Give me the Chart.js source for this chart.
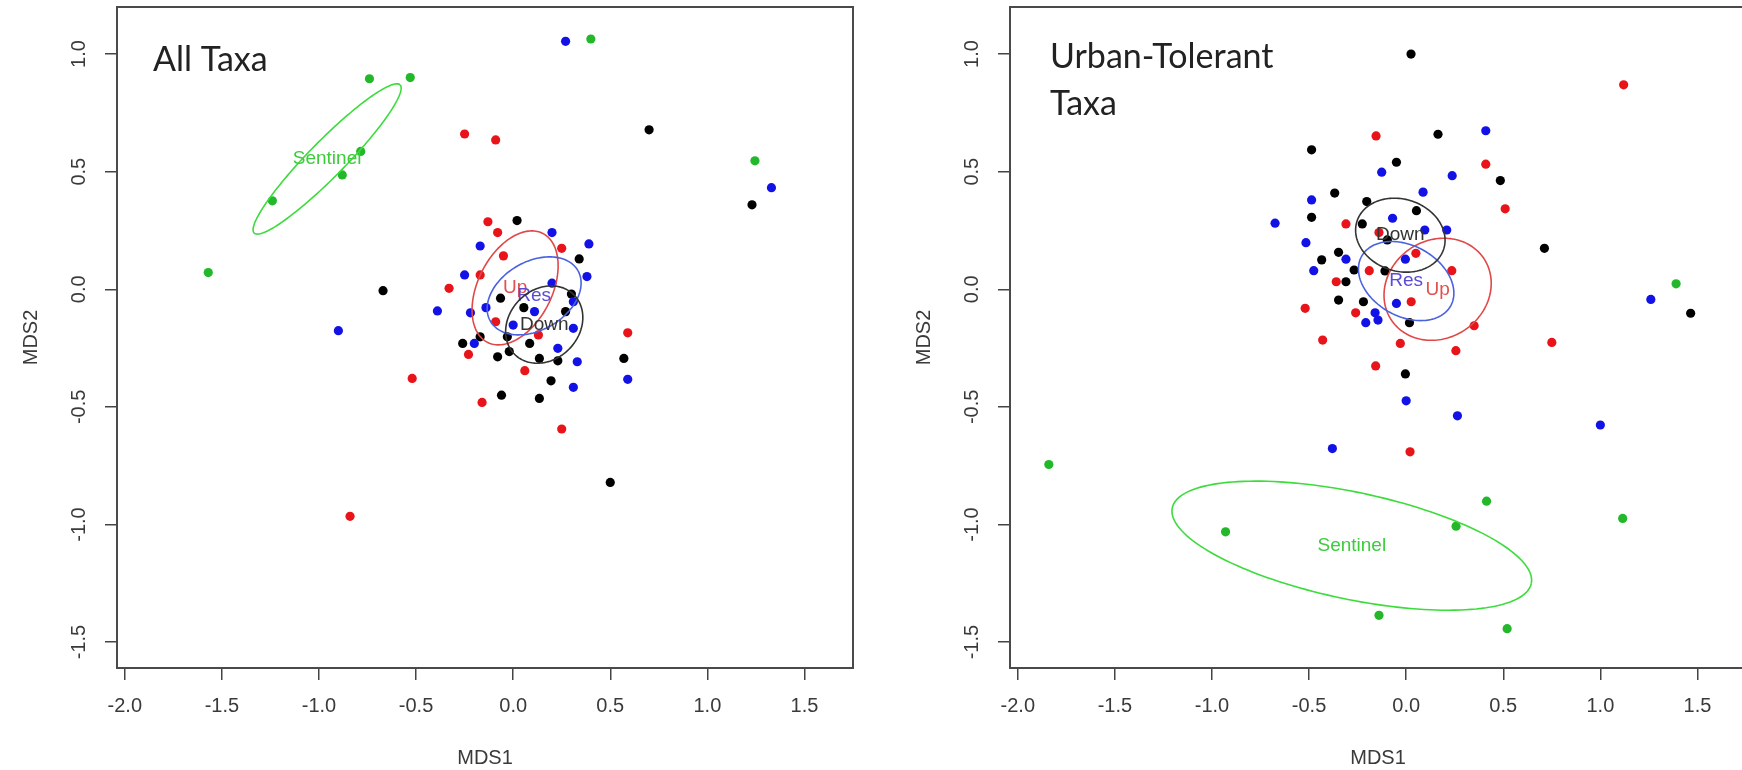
<!DOCTYPE html>
<html>
<head>
<meta charset="utf-8">
<title>NMDS - All Taxa / Urban-Tolerant Taxa</title>
<script src="https://cdn.jsdelivr.net/npm/chart.js@4.4.1/dist/chart.umd.min.js"></script>
<style>
  html, body { margin: 0; padding: 0; background: #fff; overflow: hidden; }
  #wrap { position: relative; width: 1742px; height: 770px; overflow: hidden; }
  canvas { position: absolute; top: 0; }
  #allTaxa { left: 0; }
  #urbanTaxa { left: 893px; }
</style>
</head>
<body>
<div id="wrap">
  <canvas id="allTaxa" width="893" height="770"></canvas>
  <canvas id="urbanTaxa" width="893" height="770"></canvas>
</div>
<script>
/* axis ticks, same on both panels */
const xTicks = [-2.0, -1.5, -1.0, -0.5, 0.0, 0.5, 1.0, 1.5];
const yTicks = [-1.5, -1.0, -0.5, 0.0, 0.5, 1.0];
const groups = ["Up", "Res", "Down", "Sentinel"];

/* ALL TAXA - site scores [MDS1, MDS2] */
const allUp = [[-0.25, 0.66], [-0.09, 0.635], [-0.13, 0.287], [-0.08, 0.241], [-0.05, 0.142], [0.25, 0.174],
  [-0.17, 0.061], [-0.33, 0.004], [-0.09, -0.138], [-0.23, -0.277], [0.06, -0.346], [-0.52, -0.379],
  [0.13, -0.194], [0.59, -0.185], [-0.16, -0.481], [0.25, -0.594], [-0.84, -0.965]];
const allRes = [[0.27, 1.054], [1.33, 0.432], [-0.9, -0.176], [0.2, 0.241], [-0.17, 0.184], [0.39, 0.193],
  [-0.25, 0.061], [0.38, 0.054], [0.2, 0.026], [-0.39, -0.092], [-0.22, -0.1], [-0.14, -0.078],
  [0.11, -0.095], [0.31, -0.053], [0.0, -0.152], [0.31, -0.166], [-0.2, -0.23], [0.23, -0.251],
  [0.33, -0.308], [0.31, -0.417], [0.59, -0.383]];
const allDown = [[0.7, 0.678], [1.23, 0.359], [-0.67, -0.006], [0.02, 0.292], [0.34, 0.129], [-0.065, -0.038],
  [0.055, -0.078], [0.27, -0.095], [0.3, -0.02], [-0.17, -0.202], [-0.26, -0.23], [-0.03, -0.202],
  [0.085, -0.23], [-0.08, -0.287], [-0.02, -0.265], [0.135, -0.294], [0.23, -0.304], [0.57, -0.294],
  [0.195, -0.389], [-0.06, -0.45], [0.135, -0.464], [0.5, -0.821]];
const allSentinel = [[-0.74, 0.895], [-0.53, 0.9], [-0.785, 0.586], [-0.88, 0.486], [-1.24, 0.376],
  [-1.57, 0.071], [1.245, 0.546], [0.4, 1.064]];

/* URBAN-TOLERANT TAXA */
const urbUp = [[1.12, 0.869], [-0.155, 0.652], [0.41, 0.532], [0.51, 0.342], [-0.31, 0.278], [-0.14, 0.241],
  [0.05, 0.153], [-0.19, 0.079], [0.235, 0.079], [-0.36, 0.032], [0.026, -0.053], [-0.52, -0.081],
  [-0.26, -0.1], [0.35, -0.155], [-0.43, -0.216], [-0.03, -0.23], [0.256, -0.261], [-0.157, -0.326],
  [0.75, -0.226], [0.02, -0.691]];
const urbRes = [[0.41, 0.674], [-0.126, 0.498], [0.237, 0.483], [0.087, 0.413], [-0.487, 0.38], [-0.07, 0.302],
  [-0.675, 0.281], [0.209, 0.252], [0.096, 0.252], [-0.516, 0.198], [-0.31, 0.128], [-0.004, 0.128],
  [-0.476, 0.079], [-0.05, -0.06], [-0.16, -0.1], [-0.208, -0.142], [-0.145, -0.131], [1.26, -0.043],
  [0.0, -0.474], [0.264, -0.538], [1.0, -0.577], [-0.38, -0.677]];
const urbDown = [[0.025, 1.0], [0.164, 0.659], [-0.487, 0.593], [-0.05, 0.54], [0.485, 0.462], [-0.368, 0.409],
  [-0.203, 0.373], [0.053, 0.334], [-0.487, 0.306], [-0.226, 0.278], [0.712, 0.174], [-0.097, 0.21],
  [-0.348, 0.157], [-0.435, 0.125], [-0.31, 0.032], [-0.268, 0.082], [-0.109, 0.078], [-0.348, -0.046],
  [-0.22, -0.053], [0.017, -0.142], [-0.004, -0.36], [1.465, -0.102]];
const urbSentinel = [[1.39, 0.023], [-1.84, -0.745], [0.414, -0.901], [1.115, -0.974], [-0.93, -1.031],
  [0.257, -1.007], [-0.14, -1.386], [0.52, -1.443]];

/* ordiellipse: centre + two conjugate semi-axes, data units */
const allEllipses = [
  { group: "Up", cx: 0.01, cy: 0.006, ux: 0.1425, uy: 0.2315, vx: -0.1697, vy: 0.0715 },
  { group: "Res", cx: 0.108, cy: -0.028, ux: 0.2253, uy: 0.1077, vx: -0.088, vy: 0.126 },
  { group: "Down", cx: 0.16, cy: -0.15, ux: 0.1528, uy: 0.1264, vx: -0.1271, vy: 0.1051 },
  { group: "Sentinel", cx: -0.958, cy: 0.554, ux: 0.3755, uy: 0.3149, vx: -0.0659, vy: 0.0537 }
];
const urbEllipses = [
  { group: "Up", cx: 0.162, cy: 0.0, ux: 0.242, uy: 0.1258, vx: -0.1328, vy: 0.1768 },
  { group: "Res", cx: 0.0, cy: 0.035, ux: 0.23, uy: -0.1043, vx: 0.0864, vy: 0.1319 },
  { group: "Down", cx: -0.03, cy: 0.23, ux: 0.2238, uy: -0.0576, vx: 0.0544, vy: 0.1463 },
  { group: "Sentinel", cx: -0.28, cy: -1.09, ux: 0.9243, uy: -0.1606, vx: 0.0559, vy: 0.2225 }
];

const pointColors = { Up: "#e8141a", Res: "#1212e6", Down: "#000000", Sentinel: "#22b82a" };
const lineColors = { Up: "#e04848", Res: "#4a62e0", Down: "#333333", Sentinel: "#3cdc3c" };
const textColors = { Up: "#e25050", Res: "#5a4ad8", Down: "#333333", Sentinel: "#3ccc3c" };

const axisFont = { family: "'Liberation Sans', Arial, sans-serif", size: 20 };
const axisColor = "#3a3a3a";

// box, rotated y labels, ellipses and the panel heading
const frame = {
  id: "frame",
  afterDatasetsDraw(chart, args, opts) {
    const { ctx, scales: { x, y } } = chart;
    opts.ellipses.forEach(e => {
      ctx.save();
      ctx.beginPath();
      for (let i = 0; i <= 160; i++) {
        const t = i / 160 * Math.PI * 2;
        const px = x.getPixelForValue(e.cx + e.ux * Math.cos(t) + e.vx * Math.sin(t));
        const py = y.getPixelForValue(e.cy + e.uy * Math.cos(t) + e.vy * Math.sin(t));
        if (i === 0) ctx.moveTo(px, py); else ctx.lineTo(px, py);
      }
      ctx.strokeStyle = lineColors[e.group];
      ctx.lineWidth = 1.6;
      ctx.stroke();
      ctx.font = "19px 'Liberation Sans', Arial, sans-serif";
      ctx.fillStyle = textColors[e.group];
      ctx.textAlign = "center";
      ctx.textBaseline = "middle";
      ctx.fillText(e.group, x.getPixelForValue(e.cx), y.getPixelForValue(e.cy));
      ctx.restore();
    });
  },
  afterDraw(chart, args, opts) {
    const { ctx, chartArea: a, scales: { y } } = chart;
    ctx.save();
    ctx.strokeStyle = "#4a4a4a";
    ctx.lineWidth = 2;
    ctx.strokeRect(a.left, a.top, a.right - a.left, a.bottom - a.top);

    ctx.fillStyle = axisColor;
    ctx.font = "20px 'Liberation Sans', Arial, sans-serif";
    ctx.textAlign = "center";
    ctx.textBaseline = "middle";
    yTicks.forEach(v => {
      ctx.save();
      ctx.translate(a.left - 38, y.getPixelForValue(v));
      ctx.rotate(-Math.PI / 2);
      ctx.fillText(v.toFixed(1), 0, 0);
      ctx.restore();
    });

    ctx.fillStyle = "#222";
    ctx.font = "34px Lato, 'Open Sans', sans-serif";
    ctx.textAlign = "left";
    ctx.textBaseline = "alphabetic";
    opts.heading.forEach((line, i) => {
      ctx.fillText(line, a.left + opts.headX, a.top + opts.headY + i * 47);
    });
    ctx.restore();
  }
};

function makeChart(id, series, ellipses, heading, headX, headY) {
  return new Chart(document.getElementById(id), {
    type: "scatter",
    data: {
      datasets: groups.map(g => ({
        label: g,
        data: series[g].map(p => ({ x: p[0], y: p[1] })),
        backgroundColor: pointColors[g],
        borderWidth: 0,
        pointRadius: 4.6,
        pointHoverRadius: 4.6
      }))
    },
    options: {
      responsive: false,
      animation: false,
      events: [],
      layout: { padding: { left: 0, right: 40, top: 7, bottom: 0 } },
      plugins: {
        legend: { display: false },
        tooltip: { enabled: false },
        frame: { ellipses, heading, headX, headY }
      },
      scales: {
        x: {
          type: "linear",
          min: -2.04,
          max: 1.75,
          afterBuildTicks: s => { s.ticks = xTicks.map(v => ({ value: v })); },
          afterFit: s => { s.height = 102; },
          grid: { drawOnChartArea: false, tickLength: 12, color: "#444", lineWidth: 1.5 },
          border: { display: false },
          ticks: { font: axisFont, color: axisColor, padding: 14, maxRotation: 0, autoSkip: false,
                   callback: v => Number(v).toFixed(1) },
          title: { display: true, text: "MDS1", font: axisFont, color: axisColor, padding: { top: 0, bottom: 0 } }
        },
        y: {
          type: "linear",
          min: -1.61,
          max: 1.2,
          afterBuildTicks: s => { s.ticks = yTicks.map(v => ({ value: v })); },
          afterFit: s => { s.width = 117; },
          grid: { drawOnChartArea: false, tickLength: 12, color: "#444", lineWidth: 1.5 },
          border: { display: false },
          ticks: { display: false },
          title: { display: true, text: "MDS2", font: axisFont, color: axisColor, padding: { top: 19, bottom: 0 } }
        }
      }
    },
    plugins: [frame]
  });
}

makeChart("allTaxa", { Up: allUp, Res: allRes, Down: allDown, Sentinel: allSentinel },
  allEllipses, ["All Taxa"], 36, 64);
makeChart("urbanTaxa", { Up: urbUp, Res: urbRes, Down: urbDown, Sentinel: urbSentinel },
  urbEllipses, ["Urban-Tolerant", "Taxa"], 40, 61);
</script>
</body>
</html>
